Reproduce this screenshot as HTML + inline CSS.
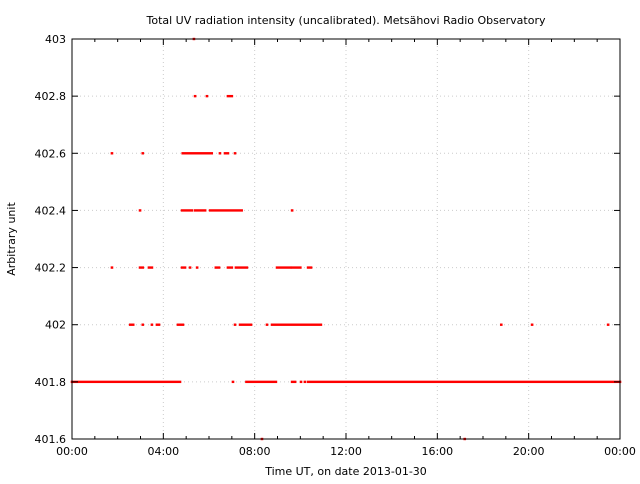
<!DOCTYPE html>
<html><head><meta charset="utf-8"><style>
body{margin:0;background:#fff;font-family:"DejaVu Sans","Liberation Sans",sans-serif;}
svg text{font-family:"DejaVu Sans","Liberation Sans",sans-serif;font-size:11px;fill:#000}
</style></head><body>
<svg id="c" width="640" height="480">
<rect width="640" height="480" fill="#fff"/>
<text x="346" y="24" text-anchor="middle">Total UV radiation intensity (uncalibrated). Metsähovi Radio Observatory</text>
<text x="346" y="475" text-anchor="middle">Time UT, on date 2013-01-30</text>
<text transform="translate(15,239) rotate(-90)" text-anchor="middle">Arbitrary unit</text>
<g id="grid"></g><g id="marks"></g>
<rect x="72" y="39" width="548" height="400" fill="none" stroke="#000"/>
<g id="axes"></g>
</svg>
<script>
const yTicks=[401.6,401.8,402,402.2,402.4,402.6,402.8,403];
const yTickLabels=["401.6","401.8","402","402.2","402.4","402.6","402.8","403"];
const xTicks=[0,4,8,12,16,20,24];
const xTickLabels=["00:00","04:00","08:00","12:00","16:00","20:00","00:00"];
// runs: value level, start hour, end hour
const runLevel=[401.8,401.8,401.8,401.8,401.8,401.8,401.8,
402,402,402,402,402,402,402,402,402,402,402,402,
402.2,402.2,402.2,402.2,402.2,402.2,402.2,402.2,402.2,402.2,402.2,402.2,
402.4,402.4,402.4,402.4,402.4,
402.6,402.6,402.6,402.6,402.6,402.6,
402.8,402.8,402.8,403,401.6,401.6];
const runStart=[0,7.05,7.64,9.64,10.03,10.2,10.34,
2.55,3.1,3.5,3.72,4.64,7.14,7.36,8.54,8.76,18.8,20.15,23.48,
1.75,2.98,3.37,4.82,5.17,5.48,6.3,6.83,7.18,8.98,9.64,10.34,
2.98,4.82,5.39,6.05,9.64,
1.75,3.1,4.85,6.48,6.7,7.14,
5.39,5.91,6.83,5.34,8.32,17.2];
const runEnd=[4.73,7.05,8.93,9.77,10.03,10.2,24,
2.68,3.1,3.5,3.81,4.86,7.14,7.84,8.54,10.9,18.8,20.15,23.48,
1.75,3.1,3.5,4.95,5.17,5.48,6.44,7.0,7.66,9.55,10.0,10.47,
2.98,5.25,5.83,7.43,9.64,
1.75,3.1,6.12,6.48,6.83,7.14,
5.39,5.91,7.0,5.34,8.32,17.2];
const X0=72,X1=620,Y0=439,Y1=39;
const xs=h=>X0+(h/24)*(X1-X0);
const ys=v=>Y0-(v-401.6)/(1.4)*(Y0-Y1);
const NS="http://www.w3.org/2000/svg";
const grid=document.getElementById('grid'),marks=document.getElementById('marks'),axes=document.getElementById('axes');
function mk(tag,at,parent){const e=document.createElementNS(NS,tag);for(const k in at)e.setAttribute(k,at[k]);parent.appendChild(e);return e;}
yTicks.forEach((v,i)=>{
 const y=ys(v);
 if(i>0&&i<yTicks.length-1){const g=mk('line',{x1:X0,x2:X1,y1:y,y2:y,stroke:'#ccc','stroke-dasharray':'1,3'},grid);
 
 }
 const t=mk('line',{x1:X0,x2:X0+6,y1:y,y2:y,stroke:'#000'},axes);
 
 
 const t2=mk('line',{x1:X1,x2:X1-6,y1:y,y2:y,stroke:'#000'},axes);
 
 
 const l=mk('text',{x:X0-6,y:y+4,'text-anchor':'end'},axes);l.textContent=yTickLabels[i];
 
 
});
for(let h=1;h<24;h++){
 const x=xs(h);const major=h%4===0;
 const t=mk('line',{x1:x,x2:x,y1:Y0,y2:Y0-(major?6:3),stroke:'#000'},axes);
 
 
 const t2=mk('line',{x1:x,x2:x,y1:Y1,y2:Y1+(major?6:3),stroke:'#000'},axes);
 
 
}
xTicks.forEach((h,i)=>{
 const x=xs(h);
 if(i>0&&i<xTicks.length-1){const g=mk('line',{x1:x,x2:x,y1:Y0,y2:Y1,stroke:'#ccc','stroke-dasharray':'1,3'},grid);
 
 }
 const l=mk('text',{x:x,y:Y0+16,'text-anchor':'middle'},axes);l.textContent=xTickLabels[i];
 
 
});
runLevel.forEach((v,i)=>{
 const xa=xs(runStart[i])-1.3,xb=xs(runEnd[i])+1.3,y=ys(v);
 const r=mk('rect',{x:xa,y:y-1.2,width:xb-xa,height:2.4,fill:'#f00'},marks);
 
 
});
</script>
</body></html>
